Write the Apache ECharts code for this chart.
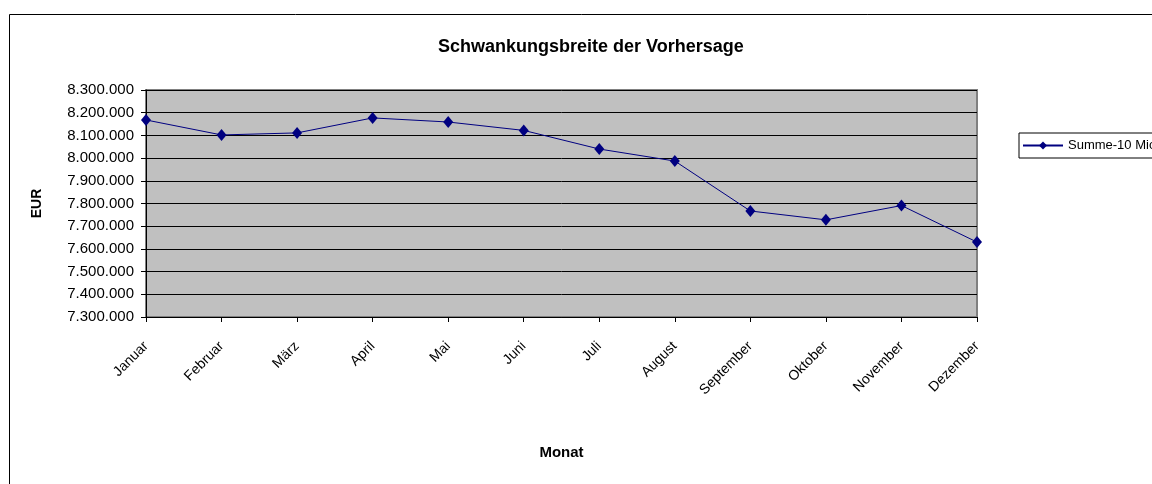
<!DOCTYPE html>
<html>
<head>
<meta charset="utf-8">
<script src="https://cdn.jsdelivr.net/npm/echarts@6/dist/echarts.min.js"></script>
<style>
  html, body { margin: 0; padding: 0; background: #fff; }
  #chart { width: 1152px; height: 484px; }
</style>
</head>
<body>
<div id="chart"></div>
<script>
// Monate und Werte
const months = ['Januar', 'Februar', 'März', 'April', 'Mai', 'Juni', 'Juli', 'August', 'September', 'Oktober', 'November', 'Dezember']
const summe10 = [8168000, 8102000, 8111000, 8177000, 8159000, 8122000, 8040000, 7987000, 7767000, 7728000, 7791000, 7630000]
const seriesName = 'Summe-10 Mio'

function fmt(v) {
  return String(Math.round(v)).replace(/\B(?=(\d{3})+(?!\d))/g, '.')
}

const chart = echarts.init(document.getElementById('chart'))
const font = 'Liberation Sans, Arial, sans-serif'

chart.setOption({
  animation: false,
  textStyle: { fontFamily: font },
  title: {
    text: 'Schwankungsbreite der Vorhersage',
    left: 433,
    top: 33,
    textStyle: { fontSize: 18, fontWeight: 'bold', color: '#000', fontFamily: font }
  },
  graphic: [
    {
      type: 'rect',
      shape: { x: 9.5, y: 14.5, width: 1200, height: 500 },
      style: { fill: 'none', stroke: '#000', lineWidth: 1 },
      silent: true,
      z: -1
    }
  ],
  legend: {
    data: [seriesName],
    left: 1019,
    top: 133,
    orient: 'vertical',
    borderColor: '#000',
    borderWidth: 1,
    padding: [6, 6, 6, 3],
    itemWidth: 40,
    itemHeight: 10,
    itemGap: 4,
    textStyle: { fontSize: 13, color: '#000', fontFamily: font }
  },
  grid: {
    left: 146,
    right: 175,
    top: 90,
    bottom: 167,
    show: true,
    backgroundColor: '#c0c0c0',
    borderColor: '#808080',
    borderWidth: 2
  },
  xAxis: {
    type: 'category',
    data: months,
    boundaryGap: false,
    name: 'Monat',
    nameLocation: 'middle',
    nameGap: 128,
    nameTextStyle: { fontSize: 15, fontWeight: 'bold', color: '#000' },
    axisLine: { lineStyle: { color: '#000', width: 1 } },
    axisTick: { show: true, length: 5, lineStyle: { color: '#000' } },
    axisLabel: { rotate: 45, fontSize: 14, color: '#000', margin: 27, interval: 0 },
    splitLine: { show: false }
  },
  yAxis: {
    type: 'value',
    min: 7300000,
    max: 8300000,
    interval: 100000,
    name: 'EUR',
    nameLocation: 'middle',
    nameGap: 102,
    nameRotate: 90,
    nameTextStyle: { fontSize: 14, fontWeight: 'bold', color: '#000' },
    axisLine: { show: true, lineStyle: { color: '#000', width: 1 } },
    axisTick: { show: true, length: 5, lineStyle: { color: '#000' } },
    axisLabel: { fontSize: 15, color: '#000', margin: 12, formatter: fmt },
    splitLine: { show: true, lineStyle: { color: '#000', width: 1 } }
  },
  series: [
    {
      name: seriesName,
      type: 'line',
      data: summe10,
      symbol: 'diamond',
      symbolSize: [10, 12],
      lineStyle: { color: '#000080', width: 1 },
      itemStyle: { color: '#000080' }
    }
  ]
})
</script>
</body>
</html>
